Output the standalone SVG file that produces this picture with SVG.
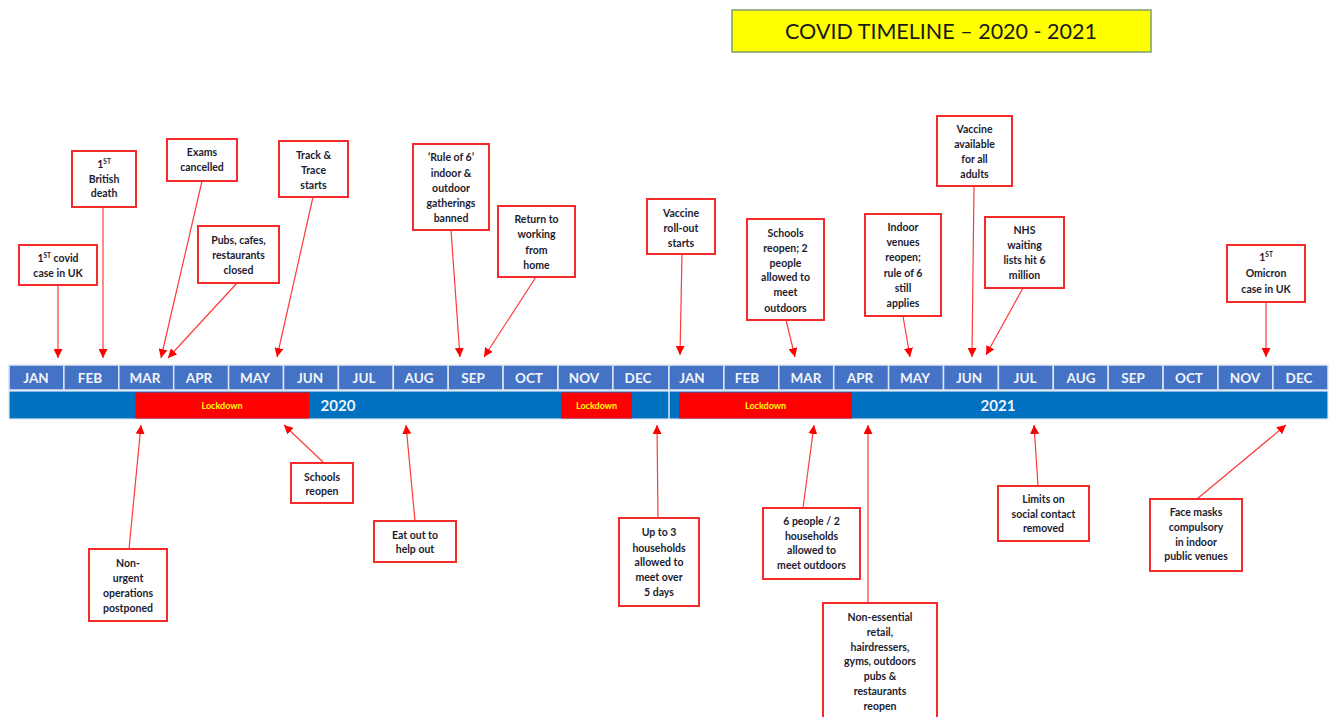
<svg xmlns="http://www.w3.org/2000/svg" width="1329" height="717" viewBox="0 0 1329 717">
<defs>
<marker id="ah" viewBox="0 0 10 10" refX="10" refY="5" markerWidth="9" markerHeight="9" markerUnits="userSpaceOnUse" orient="auto">
<path d="M0,0 L10,5 L0,10 z" fill="#ff0000"/>
</marker>
</defs>
<style>
.box{fill:#ffffff;stroke:#f52a2a;stroke-width:2}
.t{font-family:Lato,"Liberation Sans",sans-serif;font-size:10.5px;font-weight:bold;fill:#1c1c30;text-anchor:middle}
.sup{font-size:6.5px}
.c{stroke:#ff3a3a;stroke-width:1.2;fill:none;marker-end:url(#ah)}
.m{fill:#4472c4;stroke:#dfe6f3;stroke-width:1.5}
.ml{font-family:Lato,"Liberation Sans",sans-serif;font-size:13.5px;font-weight:bold;fill:#f2f5fb;text-anchor:middle}
.yr{font-family:Lato,"Liberation Sans",sans-serif;font-size:15px;font-weight:bold;fill:#eef3fa;text-anchor:middle}
.lk{fill:#ff0000}
.lt{font-family:Lato,"Liberation Sans",sans-serif;font-size:9px;font-weight:bold;fill:#ffff00;text-anchor:middle}
</style>
<rect width="1329" height="717" fill="#ffffff"/>

<g id="title">
<rect x="732" y="10" width="419" height="42" fill="#ffff00" stroke="#7f9f6a" stroke-width="1.5"/>
<text x="941" y="39" font-family="Lato,'Liberation Sans',sans-serif" font-size="21.5px" fill="#1a1a1a" text-anchor="middle">COVID TIMELINE – 2020 - 2021</text>
</g>

<g id="timeline">
<rect x="9" y="391" width="1319" height="28" fill="#0070c0" stroke="#dfe6f3" stroke-width="1.2"/>
<line x1="669" y1="391" x2="669" y2="419" stroke="#dfe6f3" stroke-width="1.5"/>
<rect class="lk" x="135.5" y="392.5" width="173.5" height="26"/>
<rect class="lk" x="561" y="392.5" width="71" height="26"/>
<rect class="lk" x="679" y="392.5" width="173" height="26"/>
<text class="lt" x="222" y="409">Lockdown</text>
<text class="lt" x="596.5" y="409">Lockdown</text>
<text class="lt" x="765.5" y="409">Lockdown</text>
<text class="yr" x="338" y="410.5">2020</text>
<text class="yr" x="998" y="410.5">2021</text>
<g id="months">
<rect class="m" x="9" y="365" width="54.9" height="25"/>
<rect class="m" x="63.9" y="365" width="54.9" height="25"/>
<rect class="m" x="118.8" y="365" width="54.9" height="25"/>
<rect class="m" x="173.7" y="365" width="54.9" height="25"/>
<rect class="m" x="228.6" y="365" width="54.9" height="25"/>
<rect class="m" x="283.5" y="365" width="54.9" height="25"/>
<rect class="m" x="338.4" y="365" width="54.9" height="25"/>
<rect class="m" x="393.3" y="365" width="54.9" height="25"/>
<rect class="m" x="448.2" y="365" width="54.9" height="25"/>
<rect class="m" x="503.1" y="365" width="54.9" height="25"/>
<rect class="m" x="558" y="365" width="54.9" height="25"/>
<rect class="m" x="612.9" y="365" width="56.1" height="25"/>
<rect class="m" x="669" y="365" width="54.9" height="25"/>
<rect class="m" x="723.9" y="365" width="54.9" height="25"/>
<rect class="m" x="778.8" y="365" width="54.9" height="25"/>
<rect class="m" x="833.7" y="365" width="54.9" height="25"/>
<rect class="m" x="888.6" y="365" width="54.9" height="25"/>
<rect class="m" x="943.5" y="365" width="54.9" height="25"/>
<rect class="m" x="998.4" y="365" width="54.9" height="25"/>
<rect class="m" x="1053.3" y="365" width="54.9" height="25"/>
<rect class="m" x="1108.2" y="365" width="54.9" height="25"/>
<rect class="m" x="1163.1" y="365" width="54.9" height="25"/>
<rect class="m" x="1218" y="365" width="54.9" height="25"/>
<rect class="m" x="1272.9" y="365" width="55.1" height="25"/>
<text class="ml" x="36" y="383">JAN</text>
<text class="ml" x="90" y="383">FEB</text>
<text class="ml" x="145" y="383">MAR</text>
<text class="ml" x="199" y="383">APR</text>
<text class="ml" x="255" y="383">MAY</text>
<text class="ml" x="310" y="383">JUN</text>
<text class="ml" x="364" y="383">JUL</text>
<text class="ml" x="419" y="383">AUG</text>
<text class="ml" x="473" y="383">SEP</text>
<text class="ml" x="529" y="383">OCT</text>
<text class="ml" x="584" y="383">NOV</text>
<text class="ml" x="638" y="383">DEC</text>
<text class="ml" x="692" y="383">JAN</text>
<text class="ml" x="747" y="383">FEB</text>
<text class="ml" x="806" y="383">MAR</text>
<text class="ml" x="860" y="383">APR</text>
<text class="ml" x="915" y="383">MAY</text>
<text class="ml" x="969" y="383">JUN</text>
<text class="ml" x="1025" y="383">JUL</text>
<text class="ml" x="1081" y="383">AUG</text>
<text class="ml" x="1133" y="383">SEP</text>
<text class="ml" x="1189" y="383">OCT</text>
<text class="ml" x="1245" y="383">NOV</text>
<text class="ml" x="1299" y="383">DEC</text>
</g>
</g>

<g id="connectors">
<line class="c" x1="58" y1="285" x2="58" y2="358"/>
<line class="c" x1="103" y1="207" x2="103" y2="358"/>
<line class="c" x1="202" y1="181" x2="161" y2="358"/>
<line class="c" x1="237" y1="283" x2="168" y2="358"/>
<line class="c" x1="313" y1="197" x2="277" y2="357"/>
<line class="c" x1="451" y1="230" x2="460" y2="357"/>
<line class="c" x1="536" y1="277" x2="484" y2="357"/>
<line class="c" x1="682" y1="254" x2="680" y2="355"/>
<line class="c" x1="786" y1="320" x2="795" y2="357"/>
<line class="c" x1="903" y1="316" x2="910" y2="357"/>
<line class="c" x1="974" y1="186" x2="972" y2="357"/>
<line class="c" x1="1023" y1="288" x2="986" y2="355"/>
<line class="c" x1="1266" y1="302" x2="1266" y2="357"/>
<line class="c" x1="129" y1="549" x2="141" y2="425"/>
<line class="c" x1="324" y1="463" x2="284" y2="425"/>
<line class="c" x1="415" y1="521" x2="406" y2="425"/>
<line class="c" x1="658" y1="518" x2="657" y2="425"/>
<line class="c" x1="803" y1="508" x2="814" y2="425"/>
<line class="c" x1="868" y1="603" x2="868" y2="425"/>
<line class="c" x1="1038" y1="486" x2="1034" y2="425"/>
<line class="c" x1="1197" y1="499" x2="1286" y2="425"/>
</g>

<g id="n-first-case">
<rect class="box" x="19" y="245" width="78" height="40"/>
<text class="t" x="58" y="262">1<tspan class="sup" dy="-4">ST</tspan><tspan dy="4"> covid</tspan></text>
<text class="t" x="58" y="277">case in UK</text>
</g>
<g id="n-first-death">
<rect class="box" x="72" y="151" width="64" height="56"/>
<text class="t" x="104" y="168">1<tspan class="sup" dy="-4">ST</tspan></text>
<text class="t" x="104" y="183">British</text>
<text class="t" x="104" y="197">death</text>
</g>
<g id="n-exams">
<rect class="box" x="167" y="139" width="70" height="42"/>
<text class="t" x="202" y="156">Exams</text>
<text class="t" x="202" y="171">cancelled</text>
</g>
<g id="n-pubs-closed">
<rect class="box" x="198" y="226" width="81" height="57"/>
<text class="t" x="238.5" y="244">Pubs, cafes,</text>
<text class="t" x="238.5" y="259">restaurants</text>
<text class="t" x="238.5" y="274">closed</text>
</g>
<g id="n-track-trace">
<rect class="box" x="279" y="141" width="69" height="56"/>
<text class="t" x="313.5" y="159">Track &amp;</text>
<text class="t" x="313.5" y="174">Trace</text>
<text class="t" x="313.5" y="189">starts</text>
</g>
<g id="n-rule-of-6">
<rect class="box" x="413" y="144" width="76" height="86"/>
<text class="t" x="451" y="161">‘Rule of 6’</text>
<text class="t" x="451" y="177">indoor &amp;</text>
<text class="t" x="451" y="192">outdoor</text>
<text class="t" x="451" y="207">gatherings</text>
<text class="t" x="451" y="222">banned</text>
</g>
<g id="n-return-wfh">
<rect class="box" x="498" y="206" width="77" height="71"/>
<text class="t" x="536.5" y="223">Return to</text>
<text class="t" x="536.5" y="238">working</text>
<text class="t" x="536.5" y="254">from</text>
<text class="t" x="536.5" y="269">home</text>
</g>
<g id="n-vaccine-rollout">
<rect class="box" x="647" y="199" width="68" height="55"/>
<text class="t" x="681" y="217">Vaccine</text>
<text class="t" x="681" y="232">roll-out</text>
<text class="t" x="681" y="247">starts</text>
</g>
<g id="n-schools-2021">
<rect class="box" x="747" y="219" width="77" height="101"/>
<text class="t" x="785.5" y="237">Schools</text>
<text class="t" x="785.5" y="252">reopen; 2</text>
<text class="t" x="785.5" y="267">people</text>
<text class="t" x="785.5" y="281">allowed to</text>
<text class="t" x="785.5" y="296">meet</text>
<text class="t" x="785.5" y="312">outdoors</text>
</g>
<g id="n-indoor-venues">
<rect class="box" x="865" y="214" width="76" height="102"/>
<text class="t" x="903" y="231">Indoor</text>
<text class="t" x="903" y="246">venues</text>
<text class="t" x="903" y="261">reopen;</text>
<text class="t" x="903" y="277">rule of 6</text>
<text class="t" x="903" y="292">still</text>
<text class="t" x="903" y="307">applies</text>
</g>
<g id="n-vaccine-adults">
<rect class="box" x="937" y="116" width="75" height="70"/>
<text class="t" x="974.5" y="133">Vaccine</text>
<text class="t" x="974.5" y="148">available</text>
<text class="t" x="974.5" y="163">for all</text>
<text class="t" x="974.5" y="178">adults</text>
</g>
<g id="n-nhs">
<rect class="box" x="985" y="217" width="79" height="71"/>
<text class="t" x="1024.5" y="234">NHS</text>
<text class="t" x="1024.5" y="249">waiting</text>
<text class="t" x="1024.5" y="264">lists hit 6</text>
<text class="t" x="1024.5" y="279">million</text>
</g>
<g id="n-omicron">
<rect class="box" x="1227" y="245" width="78" height="57"/>
<text class="t" x="1266" y="261">1<tspan class="sup" dy="-4">ST</tspan></text>
<text class="t" x="1266" y="277">Omicron</text>
<text class="t" x="1266" y="293">case in UK</text>
</g>
<g id="n-non-urgent">
<rect class="box" x="89" y="549" width="78" height="72"/>
<text class="t" x="128" y="567">Non-</text>
<text class="t" x="128" y="582">urgent</text>
<text class="t" x="128" y="597">operations</text>
<text class="t" x="128" y="612">postponed</text>
</g>
<g id="n-schools-reopen">
<rect class="box" x="291" y="463" width="62" height="40"/>
<text class="t" x="322" y="481">Schools</text>
<text class="t" x="322" y="495">reopen</text>
</g>
<g id="n-eat-out">
<rect class="box" x="374" y="521" width="82" height="41"/>
<text class="t" x="415" y="539">Eat out to</text>
<text class="t" x="415" y="553">help out</text>
</g>
<g id="n-up-to-3">
<rect class="box" x="619" y="518" width="80" height="88"/>
<text class="t" x="659" y="536">Up to 3</text>
<text class="t" x="659" y="552">households</text>
<text class="t" x="659" y="566">allowed to</text>
<text class="t" x="659" y="581">meet over</text>
<text class="t" x="659" y="596">5 days</text>
</g>
<g id="n-6-people">
<rect class="box" x="763" y="508" width="97" height="71"/>
<text class="t" x="811.5" y="525">6 people / 2</text>
<text class="t" x="811.5" y="540">households</text>
<text class="t" x="811.5" y="554">allowed to</text>
<text class="t" x="811.5" y="569">meet outdoors</text>
</g>
<g id="n-non-essential">
<rect class="box" x="823" y="603" width="114" height="125"/>
<text class="t" x="880" y="621">Non-essential</text>
<text class="t" x="880" y="636">retail,</text>
<text class="t" x="880" y="651">hairdressers,</text>
<text class="t" x="880" y="665">gyms, outdoors</text>
<text class="t" x="880" y="680">pubs &amp;</text>
<text class="t" x="880" y="695">restaurants</text>
<text class="t" x="880" y="710">reopen</text>
</g>
<g id="n-limits">
<rect class="box" x="998" y="486" width="91" height="55"/>
<text class="t" x="1043.5" y="503">Limits on</text>
<text class="t" x="1043.5" y="518">social contact</text>
<text class="t" x="1043.5" y="532">removed</text>
</g>
<g id="n-face-masks">
<rect class="box" x="1150" y="499" width="92" height="72"/>
<text class="t" x="1196" y="516">Face masks</text>
<text class="t" x="1196" y="531">compulsory</text>
<text class="t" x="1196" y="546">in indoor</text>
<text class="t" x="1196" y="560">public venues</text>
</g>
</svg>
